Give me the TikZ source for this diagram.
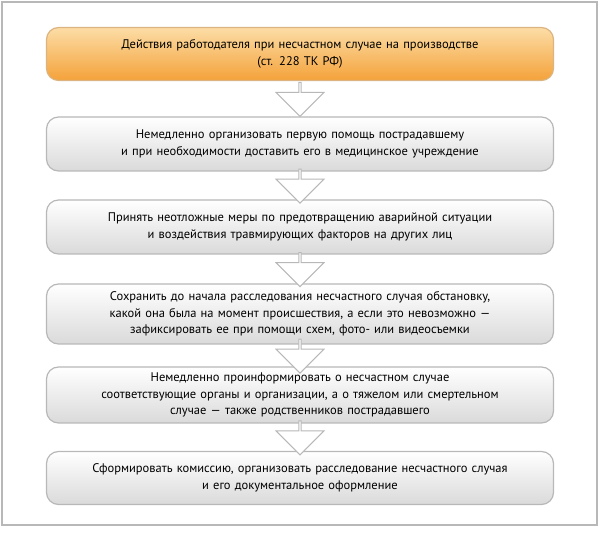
\documentclass[tikz,border=0pt]{standalone}
\usepackage{fontspec}
\setmainfont{PT Sans}
\usetikzlibrary{positioning, shapes.arrows, calc}
\definecolor{colorO}{HTML}{F4A23A}
\definecolor{colorOl}{HTML}{FCDDA6}
\definecolor{colorG}{HTML}{DADADA}
\definecolor{colorB}{HTML}{B8B8B8}
\tikzset{
    stepbox/.style={draw=colorB, line width=1.2pt, rounded corners=12pt, top color=white, bottom color=colorG,
        minimum width=507pt, text width=490pt, align=center, font=\fontsize{12.5}{16.5}\selectfont, inner sep=4pt},
    headbox/.style={stepbox, draw=colorO!80!black!60, top color=colorOl, bottom color=colorO},
    downarrow/.style={single arrow, draw=colorB, fill=white, line width=1pt, rotate=-90,
        minimum height=34pt, single arrow head extend=10pt, single arrow head indent=0pt,
        minimum width=48pt, inner sep=0pt}
}
\begin{document}
\begin{tikzpicture}[x=1pt,y=-1pt]
    \useasboundingbox (0,0) rectangle (600,534);
    \draw[colorB, line width=1.5pt] (2,2) rectangle (597,525);

    \node[headbox, minimum height=53pt] (s0) at (300,54) {Действия работодателя при несчастном случае на производстве\\(ст. 228 ТК РФ)};
    \node[stepbox, minimum height=54pt] (s1) at (300,144) {Немедленно организовать первую помощь пострадавшему\\и при необходимости доставить его в медицинское учреждение};
    \node[stepbox, minimum height=54pt] (s2) at (300,227) {Принять неотложные меры по предотвращению аварийной ситуации\\и воздействия травмирующих факторов на других лиц};
    \node[stepbox, minimum height=60pt] (s3) at (300,314) {Сохранить до начала расследования несчастного случая обстановку,\\какой она была на момент происшествия, а если это невозможно~---\\зафиксировать ее при помощи схем, фото- или видеосъемки};
    \node[stepbox, minimum height=56pt] (s4) at (300,395) {Немедленно проинформировать о несчастном случае\\соответствующие органы и организации, а о тяжелом или смертельном\\случае~--- также родственников пострадавшего};
    \node[stepbox, minimum height=53pt] (s5) at (300,478) {Сформировать комиссию, организовать расследование несчастного случая\\и его документальное оформление};

    % arrows between the steps
    \foreach \a/\b in {s0/s1, s1/s2, s2/s3, s3/s4, s4/s5}
        \node[downarrow] (a\a) at ($(\a.south)!0.5!(\b.north)$) {};
\end{tikzpicture}
\end{document}
